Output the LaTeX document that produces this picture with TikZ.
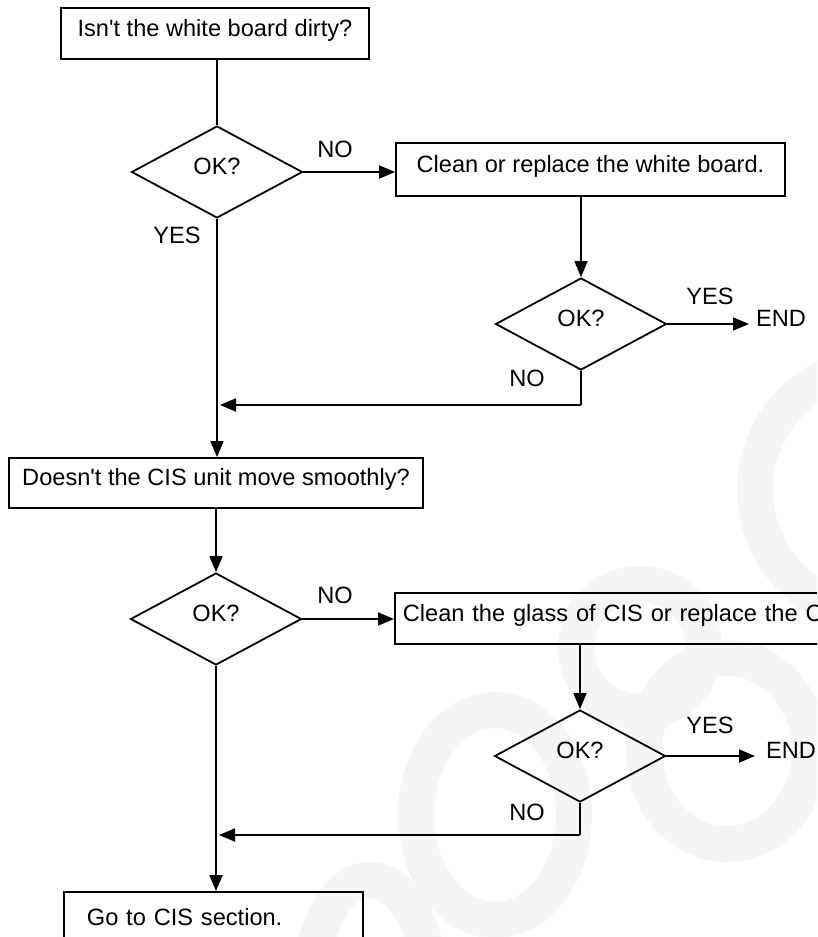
\documentclass[tikz,border=0pt]{standalone}
\usepackage{fontspec}
\newfontfamily\lsans{Liberation Sans}
\usetikzlibrary{arrows.meta,shapes.geometric}
\begin{document}
\begin{tikzpicture}[x=1pt,y=-1pt,
  every node/.style={font=\lsans\fontsize{23.6}{28}\selectfont, text height=0.72em, text depth=0.2em},
  ln/.style={line width=1.8pt},
  arr/.style={ln,-{Triangle[length=16pt,width=13pt]}},
  box/.style={draw,ln,rectangle,inner sep=0pt},
  dec/.style={draw,ln,diamond,inner sep=0pt,minimum width=171pt,minimum height=92pt},
  lbl/.style={inner sep=0pt},
  wm/.style={draw=black!4,line width=36pt}
]
\clip (0,0) rectangle (817,937);
\fill[white] (0,0) rectangle (817,937);
% watermark
\draw[wm] (880,490) circle[radius=125];
\draw[wm] (640,648) circle[radius=64];
\draw[wm] (727,751) ellipse[x radius=83,y radius=93];
\draw[wm] (495,815) ellipse[x radius=79,y radius=105];
\draw[wm] (370,990) ellipse[x radius=60,y radius=110];

% top part
\node[box,minimum width=308pt,minimum height=51pt] (b1) at (215,33.5) {Isn't the white board dirty?};
\node[dec] (d1) at (217,172) {OK?};
\node[box,minimum width=389pt,minimum height=53pt] (b2) at (590.5,169.5) {Clean or replace the white board.};
\node[dec] (d2) at (581,324) {OK?};
\node[lbl,anchor=west] (e1) at (756,324) {END};
\node[box,minimum width=414pt,minimum height=50pt] (b3) at (216,483) {Doesn't the CIS unit move smoothly?};

\node[lbl] (no1) at (335,155) {NO};
\node[lbl] (yes1) at (177,241) {YES};
\node[lbl] (yes2) at (710,302) {YES};
\node[lbl] (no2) at (527,384) {NO};

\coordinate (j1) at (217,405);
\coordinate (c1) at (581,405);

\draw[ln] (b1.south -| d1.north) -- (d1.north);
\draw[arr] (d1.east) -- (d1.east -| b2.west);
\draw[arr] (b2.south -| d2.north) -- (d2.north);
\draw[arr] (d2.east) -- ([xshift=-7pt]e1.west);
\draw[ln] (d2.south) -- (c1);
\draw[arr] (c1) -- ([xshift=3pt]j1);
\draw[arr] (d1.south) -- (d1.south |- b3.north);

% bottom part
\node[dec] (d3) at (216,619) {OK?};
\node[box,anchor=west,minimum height=51pt,inner xsep=8pt,text width=700pt,align=left] (b4) at (394,618.5) {Clean the glass of CIS or replace the C};
\node[dec] (d4) at (580,756) {OK?};
\node[lbl,anchor=west] (e2) at (766,756) {END};
\node[box,anchor=north west,inner xsep=23pt,inner ysep=0pt,text width=253pt,align=left,text height=34pt,text depth=70pt] (b5) at (63,891) {Go to CIS section.};

\node[lbl] (no3) at (335,601) {NO};
\node[lbl] (yes4) at (710,731) {YES};
\node[lbl] (no4) at (527,818) {NO};

\coordinate (j2) at (216,835);
\coordinate (c2) at (580,835);

\draw[arr] (b3.south -| d3.north) -- (d3.north);
\draw[arr] (d3.east) -- (d3.east -| b4.west);
\draw[arr] (b4.south -| d4.north) -- (d4.north);
\draw[arr] (d4.east) -- ([xshift=-11pt]e2.west);
\draw[ln] (d4.south) -- (c2);
\draw[arr] (c2) -- ([xshift=3pt]j2);
\draw[arr] (d3.south) -- (d3.south |- b5.north);
\end{tikzpicture}
\end{document}
